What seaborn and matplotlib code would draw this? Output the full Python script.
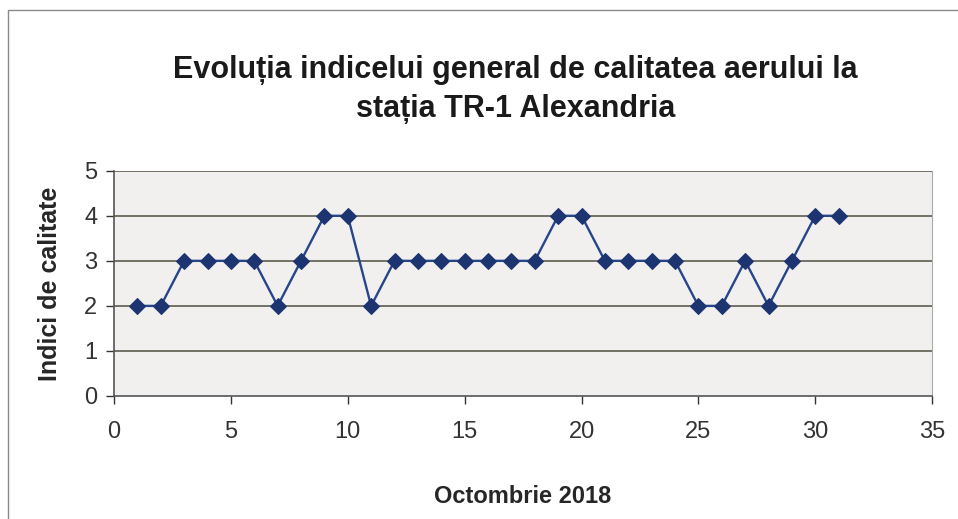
import numpy as np
import pandas as pd
import matplotlib
matplotlib.use("Agg")
import matplotlib.pyplot as plt
import seaborn as sns
from matplotlib.patches import Rectangle

# data
days = list(range(1, 32))
indici = [2, 2, 3, 3, 3, 3, 2, 3, 4, 4, 2, 3, 3, 3, 3, 3, 3, 3, 4, 4,
          3, 3, 3, 3, 2, 2, 3, 2, 3, 4, 4]
x_ticks = [0, 5, 10, 15, 20, 25, 30, 35]
y_ticks = [0, 1, 2, 3, 4, 5]

df = pd.DataFrame({'zi': days, 'indice': indici})

sns.set_style('ticks')
plt.rcParams['font.family'] = ['Liberation Sans', 'DejaVu Sans']

fig = plt.figure(figsize=(9.58, 5.19), dpi=100)
ax = fig.add_axes([0.119, 0.237, 0.854, 0.434])
ax.set_facecolor('#f1f0ee')

# outer chart frame
fig.patches.append(Rectangle((8 / 958, -0.05), 1.0, 1 - 10 / 519 + 0.05,
                             transform=fig.transFigure, fill=False,
                             edgecolor='#8a8a8a', linewidth=1.0))

for y in y_ticks[1:]:
    ax.axhline(y, color='#4f4f40', linewidth=1.1, zorder=1)

sns.lineplot(data=df, x='zi', y='indice', ax=ax, color='#26458a',
             linewidth=1.7, marker='D', markersize=8.5,
             markerfacecolor='#1c3470', markeredgecolor='#1c3470', zorder=3)

ax.set_xlim(0, 35)
ax.set_ylim(0, 5)
ax.set_xticks(x_ticks)
ax.set_yticks(y_ticks)
ax.tick_params(axis='both', labelsize=17, colors='#333333', length=6,
               width=1.0, direction='out', pad=6)
ax.tick_params(axis='x', pad=12)

for side in ['left', 'bottom']:
    ax.spines[side].set_color('#555555')
    ax.spines[side].set_linewidth(1.2)
ax.spines['right'].set_color('#aaaaaa')
ax.spines['top'].set_visible(False)
ax.spines['right'].set_visible(True)

ax.set_xlabel('Octombrie 2018', fontsize=17, fontweight='bold', labelpad=30)
ax.set_ylabel('Indici de calitate', fontsize=18, fontweight='bold', labelpad=16)

fig.text(0.538, 0.827, 'Evoluția indicelui general de calitatea aerului la\nstația TR-1 Alexandria',
         ha='center', va='center', fontsize=22, fontweight='bold',
         linespacing=1.4, color='#1a1a1a')

fig.savefig('out.png', dpi=100)
